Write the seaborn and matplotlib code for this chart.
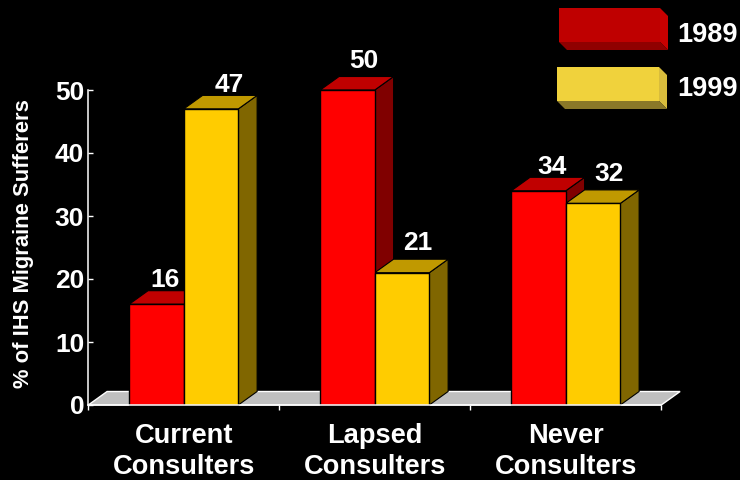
import matplotlib
matplotlib.use("Agg")
import matplotlib.pyplot as plt
from matplotlib.patches import Polygon
import pandas as pd
import seaborn as sns

# Survey shares per consulter group
categories = ["Current\nConsulters", "Lapsed\nConsulters", "Never\nConsulters"]
years = ["1989", "1999"]
values_1989 = [16, 50, 34]
values_1999 = [47, 21, 32]
y_ticks = [0, 10, 20, 30, 40, 50]
y_title = "% of IHS Migraine Sufferers"

# Face colours: front, top, side
face_colors = {
    "1989": ("#ff0000", "#c00000", "#800000"),
    "1999": ("#ffcc00", "#c09900", "#806600"),
}
# Pixel nudges of the value labels from the centre of each bar's top edge
nudge_1989 = [(9, 24), (16, 29), (13, 24)]
nudge_1999 = [(18, 24), (16, 30), (16, 29)]

FONT = "Liberation Sans"
PX = 0.72  # points per pixel at 100 dpi

sns.set_style("dark", {
    "figure.facecolor": "black", "axes.facecolor": "black",
    "axes.edgecolor": "white", "axes.grid": False,
    "text.color": "white", "xtick.color": "white", "ytick.color": "white",
    "axes.labelcolor": "white",
})
plt.rcParams["font.family"] = [FONT, "DejaVu Sans"]
plt.rcParams["font.weight"] = "bold"

frame = pd.DataFrame({
    "group": categories * 2,
    "year": [years[0]] * 3 + [years[1]] * 3,
    "share": values_1989 + values_1999,
})

fig = plt.figure(figsize=(7.4, 4.8), dpi=100, facecolor="black")
ax = fig.add_axes([88.3 / 740, 75 / 480, 573 / 740, 315 / 480])
sns.barplot(
    data=frame, x="group", y="share", hue="year", hue_order=years,
    order=categories, palette={y: face_colors[y][0] for y in years},
    width=0.571, gap=0, saturation=1, legend=False, ax=ax,
    edgecolor="black", linewidth=1, zorder=4,
)
ax.set_xlim(-0.5, 2.5)
ax.set_ylim(0, 50)

# Depth of the extruded faces in data units
depth_x = 18.8 / 191
depth_y = 13.5 / 6.3

# Floor under the columns
ax.add_patch(Polygon(
    [(-0.5, 0), (-0.5 + depth_x, depth_y), (2.5 + depth_x, depth_y), (2.5, 0)],
    closed=True, facecolor="#c0c0c0", edgecolor="white", linewidth=1,
    clip_on=False, zorder=1,
))

# Top and side faces, built from each front rectangle, left to right
bars = []
for year, container, vals, nudges in zip(
    years, ax.containers, (values_1989, values_1999), (nudge_1989, nudge_1999)
):
    for bar, val, nudge in zip(container.patches, vals, nudges):
        bars.append((bar.get_x(), bar, year, val, nudge))

for order, (x0, bar, year, val, nudge) in enumerate(sorted(bars, key=lambda b: b[0])):
    x1 = x0 + bar.get_width()
    top = bar.get_height()
    _, top_col, side_col = face_colors[year]
    ax.add_patch(Polygon(
        [(x1, 0), (x1 + depth_x, depth_y), (x1 + depth_x, top + depth_y), (x1, top)],
        closed=True, facecolor=side_col, edgecolor="black", linewidth=0.8,
        clip_on=False, zorder=2 + order * 0.01,
    ))
    ax.add_patch(Polygon(
        [(x0, top), (x0 + depth_x, top + depth_y), (x1 + depth_x, top + depth_y), (x1, top)],
        closed=True, facecolor=top_col, edgecolor="black", linewidth=0.8,
        clip_on=False, zorder=2 + order * 0.01,
    ))
    ax.annotate(
        str(val), xy=((x0 + x1) / 2, top),
        xytext=(nudge[0] * PX, nudge[1] * PX), textcoords="offset points",
        ha="center", va="center", color="white", fontsize=19,
        fontweight="bold", family=FONT, annotation_clip=False, zorder=6,
    )

for bar in ax.patches:
    bar.set_clip_on(False)

# Axes furniture
for name in ("top", "right"):
    ax.spines[name].set_visible(False)
for name in ("left", "bottom"):
    ax.spines[name].set_color("white")
    ax.spines[name].set_linewidth(1.1)
    ax.spines[name].set_zorder(5)

ax.set_yticks(y_ticks)
ax.tick_params(axis="y", direction="in", length=3.6, width=1, color="white",
               labelsize=19, labelcolor="white", pad=3, left=True)
ax.set_xticks(range(len(categories)))
ax.set_xticklabels(categories, linespacing=1.24)
ax.set_xticks([-0.5, 0.5, 1.5, 2.5], minor=True)
ax.tick_params(axis="x", which="major", length=0, labelsize=19.6,
               labelcolor="white", pad=13)
ax.tick_params(axis="x", which="minor", direction="out", length=3.8, width=1,
               color="white", bottom=True)
ax.set_xlabel("")
ax.set_ylabel(y_title, fontsize=15.8, fontweight="bold", color="white")
ax.yaxis.set_label_coords((34 - 88.3) / 573, (405 - 244) / 315)
for label in ax.get_xticklabels() + ax.get_yticklabels():
    label.set_fontweight("bold")

# Key in the upper right, laid out on a pixel grid
key = fig.add_axes([0, 0, 1, 1], facecolor="none")
key.set_xlim(0, 740)
key.set_ylim(480, 0)
key.axis("off")


def key_box(x0, x1, y0, y1, front, side, bottom, label, label_y):
    d = 8
    key.add_patch(Polygon([(x1, y0), (x1 + d, y0 + d), (x1 + d, y1 + d), (x1, y1)],
                          closed=True, facecolor=side, edgecolor="none"))
    key.add_patch(Polygon([(x0, y1), (x1, y1), (x1 + d, y1 + d), (x0 + d, y1 + d)],
                          closed=True, facecolor=bottom, edgecolor="none"))
    key.add_patch(Polygon([(x0, y0), (x1, y0), (x1, y1), (x0, y1)],
                          closed=True, facecolor=front, edgecolor="none"))
    key.text(677.5, label_y, label, color="white", fontsize=19.5, fontweight="bold",
             family=FONT, ha="left", va="center")


key_box(559, 660, 8, 42, "#bf0000", "#c80000", "#900000", years[0], 34.5)
key_box(557, 659, 67, 101, "#f0d23c", "#d8bc3c", "#8a7828", years[1], 89.5)

fig.savefig("out.png", dpi=100, facecolor="black")
